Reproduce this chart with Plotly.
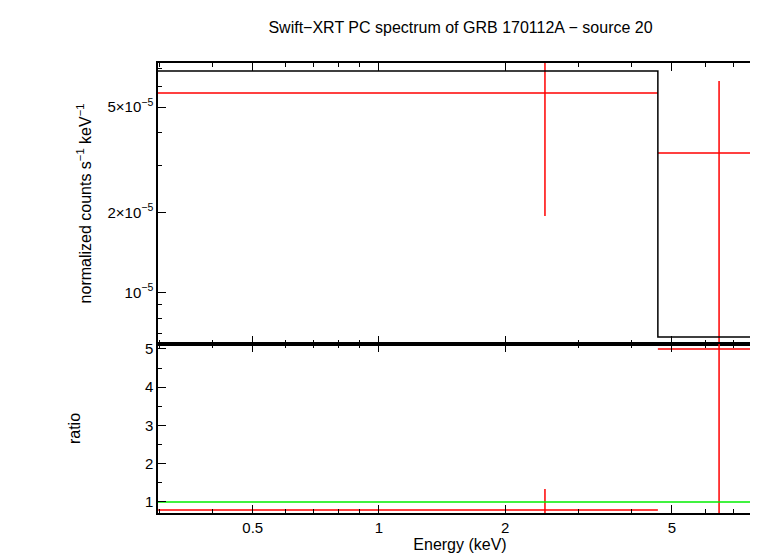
import plotly.graph_objects as go
from plotly.subplots import make_subplots

# spectrum bins (keV)
bin_lo = [0.297, 4.63]
bin_hi = [4.63, 8.2]
bin_mid = [2.49, 6.48]
rate = [5.65e-5, 3.35e-5]
rate_hi = [9.0e-5, 6.27e-5]
rate_lo = [1.94e-5, 3.0e-6]
model = [6.84e-5, 6.78e-6]
ratio = [0.79, 5.0]
ratio_hi = [1.34, 6.0]
ratio_lo = [0.3, 0.3]

x_minor = [0.3, 0.4, 0.6, 0.7, 0.8, 0.9, 3, 4, 6, 7, 8]
y_minor = [7e-6, 8e-6, 9e-6, 3e-5, 4e-5, 6e-5, 7e-5]

fig = make_subplots(rows=2, cols=1, shared_xaxes=True, vertical_spacing=0,
                    row_heights=[281, 169])

red = "#ff0000"
for i in range(2):
    fig.add_trace(go.Scatter(x=[bin_lo[i], bin_hi[i]], y=[rate[i], rate[i]], mode="lines",
                             line=dict(color=red, width=1.5)), row=1, col=1)
    fig.add_trace(go.Scatter(x=[bin_mid[i], bin_mid[i]], y=[rate_lo[i], rate_hi[i]], mode="lines",
                             line=dict(color=red, width=1.5)), row=1, col=1)
    fig.add_trace(go.Scatter(x=[bin_lo[i], bin_hi[i]], y=[ratio[i], ratio[i]], mode="lines",
                             line=dict(color=red, width=1.5)), row=2, col=1)
    fig.add_trace(go.Scatter(x=[bin_mid[i], bin_mid[i]], y=[ratio_lo[i], ratio_hi[i]], mode="lines",
                             line=dict(color=red, width=1.5)), row=2, col=1)

# model step
mx = [bin_lo[0], bin_hi[0], bin_hi[0], bin_hi[1]]
my = [model[0], model[0], model[1], model[1]]
fig.add_trace(go.Scatter(x=mx, y=my, mode="lines", line=dict(color="black", width=1.5)), row=1, col=1)
fig.add_trace(go.Scatter(x=[0.29, 8.3], y=[1, 1], mode="lines", line=dict(color="#00ee00", width=1.5)),
              row=2, col=1)

ax = dict(showline=True, linecolor="black", linewidth=1.5, mirror="allticks", ticks="inside",
          tickcolor="black", showgrid=False, zeroline=False, automargin=False,
          tickfont=dict(size=15, color="black"))
fig.update_xaxes(type="log", range=[-0.527, 0.914], tickvals=[0.5, 1, 2, 5], ticklen=8,
                 minor=dict(ticks="inside", ticklen=4, tickcolor="black", tickvals=x_minor), **ax)
fig.update_xaxes(showticklabels=False, row=1, col=1)
fig.update_xaxes(title=dict(text="Energy (keV)", font=dict(size=16, color="black"), standoff=2), row=2, col=1)
fig.update_yaxes(type="log", range=[-5.195, -4.135], tickvals=[1e-5, 2e-5, 5e-5],
                 ticktext=["10<sup>−5</sup>", "2×10<sup>−5</sup>", "5×10<sup>−5</sup>"], ticklen=8,
                 minor=dict(ticks="inside", ticklen=4, tickcolor="black", tickvals=y_minor),
                 title=dict(text="normalized counts s<sup>−1</sup> keV<sup>−1</sup>",
                            font=dict(size=16, color="black"), standoff=12), row=1, col=1, **ax)
fig.update_yaxes(range=[0.71, 5.13], tickvals=[1, 2, 3, 4, 5], ticklen=8,
                 minor=dict(ticks="inside", ticklen=4, dtick=0.5, tickcolor="black"),
                 title=dict(text="ratio", font=dict(size=16, color="black"), standoff=60),
                 row=2, col=1, **ax)

fig.update_layout(width=758, height=556, showlegend=False, plot_bgcolor="white", paper_bgcolor="white",
                  font=dict(family="Liberation Sans, Arial", color="black"),
                  margin=dict(l=150, r=4, t=55, b=51),
                  title=dict(text="Swift−XRT PC spectrum of GRB 170112A − source 20", x=0.597, y=0.975,
                             xanchor="center", font=dict(size=16, color="black")))
fig.write_html("out.html")
